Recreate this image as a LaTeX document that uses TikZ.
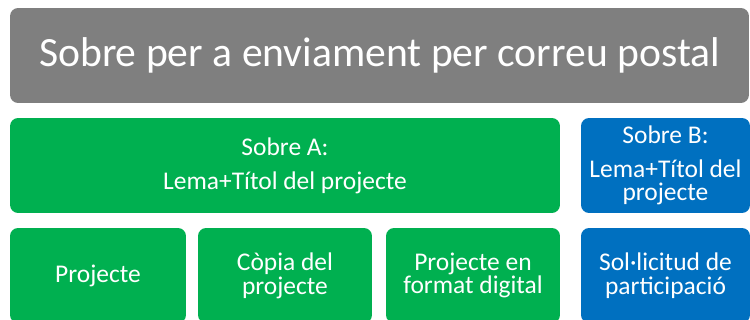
\documentclass[tikz,border=0pt]{standalone}
\usepackage{fontspec}
\setmainfont{Carlito}
\definecolor{envgrey}{HTML}{7F7F7F}
\definecolor{envgreen}{HTML}{00B050}
\definecolor{envblue}{HTML}{0070C0}
\begin{document}
\begin{tikzpicture}[
    x=0.02cm, y=-0.02cm,
    boxnode/.style={rectangle, rounded corners=0.16cm, text=white, align=center, inner sep=0pt, minimum height=1.9cm, font=\fontsize{14.5}{13.5}\selectfont},
    greynode/.style={boxnode, fill=envgrey, font=\fontsize{23.7}{26}\selectfont},
    greennode/.style={boxnode, fill=envgreen},
    bluenode/.style={boxnode, fill=envblue}
]
\useasboundingbox (0,0) rectangle (750,320);
\node[greynode, minimum width=14.78cm](top) at (379.5, 55.5) {Sobre per a enviament per correu postal};

\node[greennode, minimum width=11cm](a) at (285, 165.5) {Sobre A:\\[0.2cm]Lema+Títol del projecte};
\node[bluenode, minimum width=3.38cm](b) at (665.5, 165.5) {Sobre B:\\[0.2cm]Lema+Títol del\\projecte};

\node[greennode, minimum width=3.52cm](a1) at (98, 275.5) {Projecte};
\node[greennode, minimum width=3.48cm](a2) at (285, 275.5) {Còpia del\\projecte};
\node[greennode, minimum width=3.48cm](a3) at (473, 275.5) {Projecte en\\format digital};
\node[bluenode, minimum width=3.38cm](b1) at (665.5, 275.5) {Sol·licitud de\\participació};
\end{tikzpicture}
\end{document}
